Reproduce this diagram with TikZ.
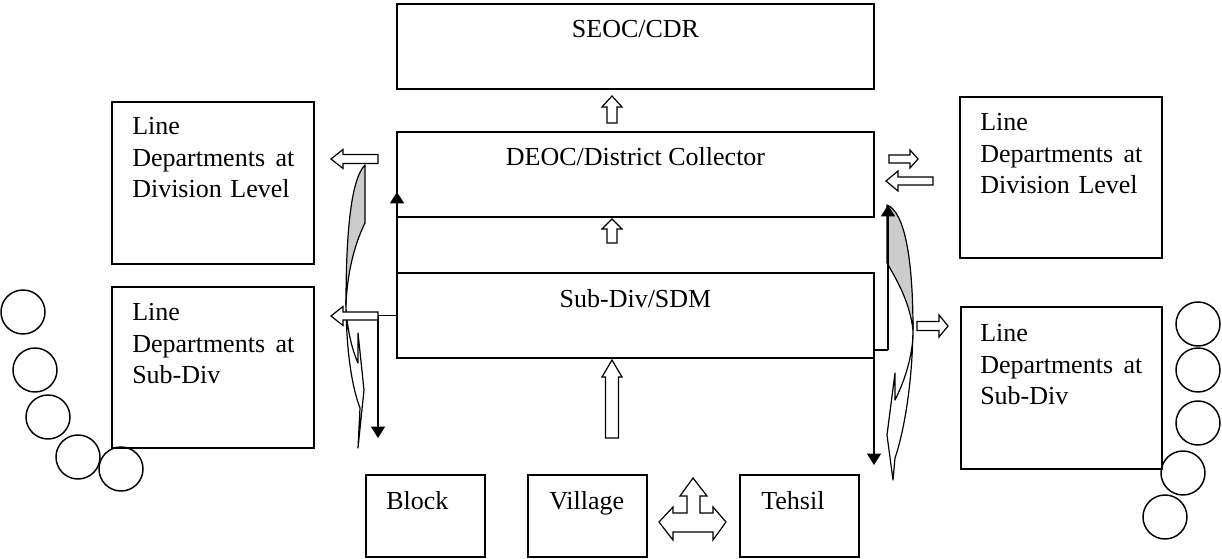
\documentclass[tikz,border=0pt]{standalone}
\usepackage{fontspec}
\setmainfont{Liberation Serif}
\usetikzlibrary{arrows.meta}

% hollow block arrow: tail x, tail y, angle, length, head length, shaft half-width, head half-width
\newcommand{\hollowarr}[7]{%
  \draw[hollow, shift={(#1,#2)}, rotate=#3]
    (0,-#6) -- ({#4-#5},-#6) -- ({#4-#5},-#7) -- (#4,0) --
    ({#4-#5},#7) -- ({#4-#5},#6) -- (0,#6) -- cycle;}

\tikzset{
  box/.style={draw, line width=1.1pt, rectangle, inner sep=0pt, outer sep=0pt},
  txt/.style={inner sep=0pt, font=\fontsize{19.5pt}{23.6pt}\selectfont},
  ldtxt/.style={txt, anchor=base west, align=left, text width=121.5pt},
  circ/.style={draw, line width=1.1pt, circle, minimum size=33pt, inner sep=0pt},
  hollow/.style={draw, fill=white, line width=0.9pt, line join=miter},
  conn/.style={draw, line width=0.9pt},
  upr/.style={conn, -{Triangle[length=8.5pt,width=10.5pt]}},
  crescent/.style={draw, line width=0.9pt, line join=round},
}

\begin{document}
\begin{tikzpicture}[x=0.75pt, y=-0.75pt]
\useasboundingbox (0,0) rectangle (1222,559);

% central chain
\node[box, minimum width={477*0.75pt}, minimum height={85*0.75pt}] (seoc) at (635.5,46.5) {};
\node[box, minimum width={477*0.75pt}, minimum height={85*0.75pt}] (deoc) at (635.5,174.5) {};
\node[box, minimum width={477*0.75pt}, minimum height={85*0.75pt}] (subdiv) at (635.5,315.5) {};
\node[txt, anchor=base] (seoct) at (635.5,38) {SEOC/CDR};
\node[txt, anchor=base] (deoct) at (635.5,166) {DEOC/District Collector};
\node[txt, anchor=base] (subdivt) at (635.5,308) {Sub-Div/SDM};

% line departments
\node[box, minimum width={202*0.75pt}, minimum height={162*0.75pt}] (ldl1) at (213,183) {};
\node[box, minimum width={202*0.75pt}, minimum height={161*0.75pt}] (ldl2) at (213,367.5) {};
\node[box, minimum width={202*0.75pt}, minimum height={161*0.75pt}] (ldr1) at (1061,177.5) {};
\node[box, minimum width={201*0.75pt}, minimum height={162*0.75pt}] (ldr2) at (1061.5,388) {};
\node[ldtxt] (ldl1t) at (132,135) {Line\\Departments\hfill at\\Division Level};
\node[ldtxt] (ldl2t) at (132,321) {Line\\Departments\hfill at\\Sub-Div};
\node[ldtxt] (ldr1t) at (980,131) {Line\\Departments\hfill at\\Division Level};
\node[ldtxt] (ldr2t) at (980,342) {Line\\Departments\hfill at\\Sub-Div};

% field level
\node[box, minimum width={119*0.75pt}, minimum height={82*0.75pt}] (block) at (425.5,516) {};
\node[box, minimum width={119*0.75pt}, minimum height={82*0.75pt}] (village) at (587.5,516) {};
\node[box, minimum width={119*0.75pt}, minimum height={82*0.75pt}] (tehsil) at (799.5,516) {};
\node[txt, anchor=base west] (blockt) at (386,510) {Block};
\node[txt, anchor=base west] (villaget) at (549,510) {Village};
\node[txt, anchor=base west] (tehsilt) at (761,510) {Tehsil};

% circles
\node[circ] (cl1) at (23,312) {};
\node[circ] (cl2) at (35,370) {};
\node[circ] (cl3) at (48,417) {};
\node[circ] (cl4) at (78,457) {};
\node[circ] (cl5) at (121,469) {};
\node[circ] (cr1) at (1198,324) {};
\node[circ] (cr2) at (1198,370) {};
\node[circ] (cr3) at (1198,423) {};
\node[circ] (cr4) at (1183,473) {};
\node[circ] (cr5) at (1165,517) {};

% curved arrows, left
\draw[crescent, fill=black!20] (365,165) -- (365,223)
  .. controls (354,245) and (347,275) .. (346,305)
  .. controls (346,240) and (350,180) .. (365,165) -- cycle;
\draw[crescent, fill=white] (346,300)
  .. controls (346,355) and (353,390) .. (360,408) -- (358,448) -- (364,390)
  -- (358,333) -- (358,363)
  .. controls (352,350) and (347,328) .. (346,308) -- cycle;

% curved arrows, right
\draw[crescent, fill=black!20] (887,205) -- (887,263)
  .. controls (900,285) and (910,305) .. (913,330)
  .. controls (913,260) and (905,212) .. (887,205) -- cycle;
\draw[crescent, fill=white] (913,322)
  .. controls (913,385) and (903,435) .. (895,458) -- (893,480) -- (887,435)
  -- (895,373) -- (895,400)
  .. controls (905,380) and (911,360) .. (913,338) -- cycle;

% thin connectors
\coordinate (lh) at (378,315.5);
\coordinate (lup) at (397,192);
\coordinate (ldn) at (378,438);
\draw[conn] (lh) -- (subdiv.west);
\draw[upr] (subdiv.west) -- (lup);
\draw[upr] (lh) -- (ldn);
\coordinate (rj) at (874,350);
\coordinate (rk) at (888,350);
\coordinate (rup) at (888,205);
\coordinate (rdn) at (874,465);
\draw[conn] (rj) -- (rk);
\draw[upr] (rk) -- (rup);
\draw[upr] (rj) -- (rdn);

% block arrows
\hollowarr{612}{123}{90}{27}{11}{5}{10}
\hollowarr{612}{243}{90}{24}{10}{5}{10}
\hollowarr{612}{438}{90}{78}{17}{6.5}{10}
\hollowarr{378}{159}{180}{47}{12}{4.5}{9.5}
\hollowarr{378}{316}{180}{47}{12}{4}{9.5}
\hollowarr{889}{159}{0}{29}{8}{4}{9}
\hollowarr{933}{181}{180}{47}{12}{4}{10}
\hollowarr{917}{326}{0}{31}{9}{4.5}{11}

% three-way arrow between village and tehsil
\draw[hollow] (659,522) -- (673,507) -- (673,513) -- (687,513) -- (687,496)
  -- (680,496) -- (693,478) -- (707,496) -- (700,496) -- (700,513)
  -- (713,513) -- (713,507) -- (726,522) -- (713,540) -- (713,532)
  -- (673,532) -- (673,540) -- cycle;
\end{tikzpicture}
\end{document}
